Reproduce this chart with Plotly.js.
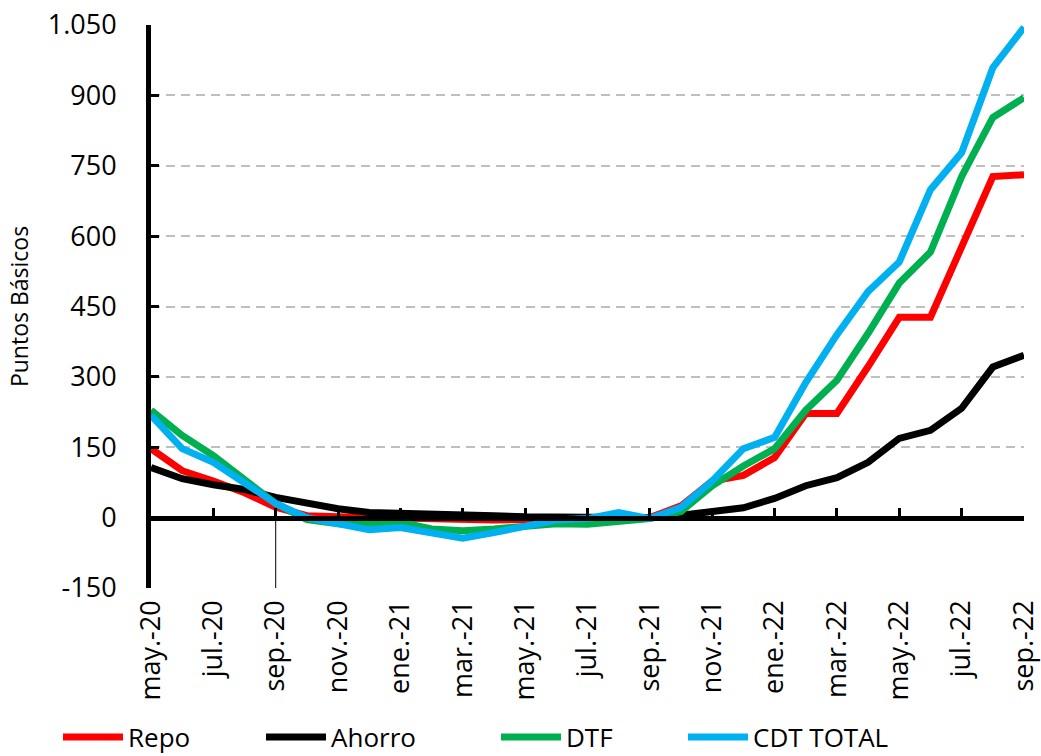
<!DOCTYPE html>
<html>
<head>
<meta charset="utf-8">
<script src="https://cdn.plot.ly/plotly-3.0.1.min.js"></script>
<style>html,body{margin:0;padding:0;background:#fff;}#chart{width:1041px;height:756px;}</style>
</head>
<body>
<div id="chart"></div>
<script>
const months = ['may.-20','jun.-20','jul.-20','ago.-20','sep.-20','oct.-20','nov.-20','dic.-20',
  'ene.-21','feb.-21','mar.-21','abr.-21','may.-21','jun.-21','jul.-21','ago.-21','sep.-21','oct.-21','nov.-21','dic.-21',
  'ene.-22','feb.-22','mar.-22','abr.-22','may.-22','jun.-22','jul.-22','ago.-22','sep.-22'];
const xTickLabels = ['may.-20','jul.-20','sep.-20','nov.-20','ene.-21','mar.-21','may.-21','jul.-21','sep.-21','nov.-21','ene.-22','mar.-22','may.-22','jul.-22','sep.-22'];
const yTickVals = [-150,0,150,300,450,600,750,900,1050];
const yTickText = ['-150','0','150','300','450','600','750','900','1.050'];

const repo   = [147,100,78,53,22,4,2,0,-2,-3,-5,-5,-4,-3,-1,0,0,25,78,90,128,222,222,322,427,427,577,727,731];
const ahorro = [107,83,70,60,43,30,19,11,10,9,7,4,2,1,0,0,0,5,14,21,41,68,85,118,169,186,233,321,346];
const dtf    = [229,175,132,79,30,-4,-13,-13,-10,-24,-28,-24,-19,-13,-14,-9,-2,13,68,110,147,229,293,393,500,566,727,853,895];
const cdt    = [218,147,118,75,30,0,-13,-26,-21,-33,-44,-32,-17,-5,-2,11,-2,22,78,147,171,288,390,482,545,699,778,959,1045];

const seriesNames = ['Repo','Ahorro','DTF','CDT TOTAL'];
const seriesData = [repo, ahorro, dtf, cdt];
const colors = ['#ff0000','#000000','#00b050','#00b0f0'];
const legendIds = ['legend','legend2','legend3','legend4'];
const legendX = [58, 261, 496, 683];

const traces = seriesNames.map((n,i)=>({
  type:'scatter', mode:'lines', name:n, x:months, y:seriesData[i],
  line:{color:colors[i], width:7}, hoverinfo:'skip', legend:legendIds[i]
}));

const legendFont = {family:'Open Sans, sans-serif', size:26, color:'#000'};
const layout = {
  width:1041, height:756,
  margin:{l:151, r:17, t:25, b:168},
  paper_bgcolor:'#fff', plot_bgcolor:'#fff',
  showlegend:true,
  xaxis:{
    type:'category', categoryorder:'array', categoryarray:months,
    range:[0,28], showgrid:false, zeroline:false, showline:false,
    ticks:'', tickmode:'array', tickvals:xTickLabels, ticktext:xTickLabels,
    tickangle:-90, ticklabelstandoff:6,
    tickfont:{family:'Open Sans, sans-serif', size:27, color:'#000'}
  },
  xaxis2:{
    type:'category', categoryorder:'array', categoryarray:months,
    overlaying:'x', anchor:'free', position:0.125, side:'bottom',
    range:[0,28], showgrid:false, zeroline:false,
    showline:true, linecolor:'#000', linewidth:5,
    ticks:'inside', ticklen:8, tickwidth:3, tickcolor:'#000',
    tickmode:'array', tickvals:xTickLabels, showticklabels:false
  },
  yaxis:{
    range:[-150,1050], tickmode:'array', tickvals:yTickVals, ticktext:yTickText,
    showgrid:true, gridcolor:'#bfbfbf', gridwidth:2, griddash:'9px,6px',
    zeroline:false, showline:true, linecolor:'#000', linewidth:5,
    ticks:'inside', ticklen:8, tickwidth:3, tickcolor:'#000',
    ticklabelstandoff:24,
    tickfont:{family:'Open Sans, sans-serif', size:27, color:'#000'},
    title:{text:'Puntos Básicos', font:{family:'Open Sans, sans-serif', size:23, color:'#000'}, standoff:14}
  },
  shapes:[{type:'line', xref:'x', yref:'y', x0:4, x1:4, y0:-150, y1:0, line:{color:'#000', width:1}}]
};
legendIds.forEach((id,i)=>{
  layout[id] = {xref:'container', yref:'container', x:legendX[i]/1041, y:19/756,
    xanchor:'left', yanchor:'middle', orientation:'h', font:legendFont,
    bgcolor:'rgba(0,0,0,0)', itemwidth:60};
});
// axis carrier for zero-line ticks
traces.push({type:'scatter', mode:'lines', x:months, y:months.map(()=>null), xaxis:'x2', yaxis:'y', showlegend:false, hoverinfo:'skip'});

Plotly.newPlot('chart', traces, layout, {staticPlot:true, displayModeBar:false});
</script>
</body>
</html>
